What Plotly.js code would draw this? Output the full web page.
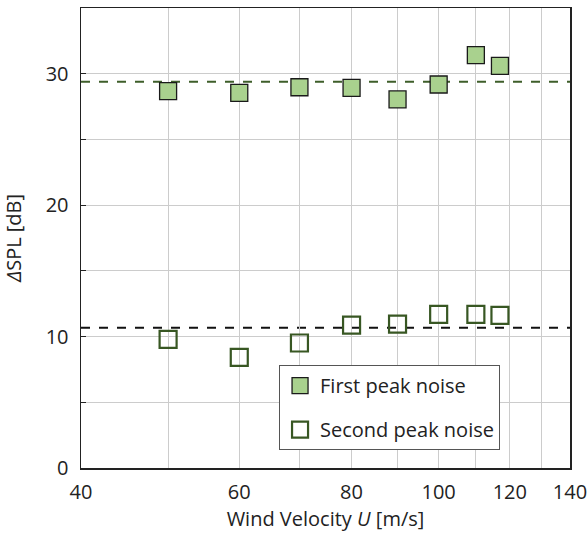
<!DOCTYPE html>
<html><head><meta charset="utf-8">
<script src="https://cdn.plot.ly/plotly-3.0.1.min.js"></script>
<style>html,body{margin:0;padding:0;background:#fff}#plot{width:588px;height:535px}</style>
</head><body><div id="plot"></div>
<script>
const velocity = [50, 60, 70, 80, 90, 100, 110, 117];
const firstPeak = [28.67, 28.54, 28.97, 28.92, 28.04, 29.18, 31.41, 30.59];
const secondPeak = [9.79, 8.42, 9.51, 10.87, 10.95, 11.69, 11.69, 11.61];
const firstMean = 29.38;
const secondMean = 10.67;
const xTicks = [40, 60, 80, 100, 120, 140];
const xMinor = [50, 70, 90, 110, 130];
const seriesNames = ['First peak noise', 'Second peak noise'];

const font = "'Open Sans', Lato, sans-serif";
const fs = 20;
const traces = [
  {x: velocity, y: firstPeak, type: 'scatter', mode: 'markers', name: seriesNames[0], legendgroup: 'a',
   marker: {symbol: 'square', size: 17, color: '#a9d18e', line: {color: '#1a1a1a', width: 1.3}}},
  {x: velocity, y: secondPeak, type: 'scatter', mode: 'markers', name: seriesNames[1], legendgroup: 'b',
   marker: {symbol: 'square-open', size: 17, color: '#385723', line: {color: '#385723', width: 2.2}}}
];
const layout = {
  width: 588, height: 535,
  margin: {l: 81, r: 18, t: 8, b: 67},
  paper_bgcolor: '#fff', plot_bgcolor: '#fff',
  font: {family: font, size: fs, color: '#222'},
  showlegend: true,
  legend: {x: 0.405, xanchor: 'left', y: 0.2236, yanchor: 'top', bgcolor: '#fff',
           bordercolor: '#555', borderwidth: 1, font: {family: font, size: fs, color: '#222'},
           traceorder: 'grouped', tracegroupgap: 15, itemwidth: 30},
  xaxis: {type: 'log', range: [Math.log10(40) - 1e-6, Math.log10(140) + 1e-6], tickvals: xTicks, ticktext: xTicks.map(String),
          showgrid: true, gridcolor: '#cccccc', gridwidth: 1, zeroline: false, ticklabeloverflow: 'allow',
          showline: true, linecolor: '#222', linewidth: 1.5, mirror: true, ticks: '', ticklabelstandoff: 5,
          minor: {tickvals: xMinor, showgrid: true, gridcolor: '#cccccc', gridwidth: 1, ticks: ''},
          tickfont: {size: fs}, title: {text: 'Wind Velocity <i>U</i> [m/s]', font: {size: fs}, standoff: 6}},
  yaxis: {range: [0, 35], dtick: 10, tick0: 0, showgrid: true, gridcolor: '#cccccc', gridwidth: 1, zeroline: false,
          showline: true, linecolor: '#222', linewidth: 1.5, mirror: true, ticks: 'inside', ticklen: 5, tickcolor: '#222',
          ticklabelstandoff: 7,
          minor: {dtick: 5, showgrid: true, gridcolor: '#cccccc', ticks: 'inside', ticklen: 5, tickcolor: '#222'},
          tickfont: {size: fs}, title: {text: '<i>Δ</i>SPL [dB]', font: {size: fs}, standoff: 18}},
  shapes: [
    {type: 'line', xref: 'paper', x0: 0, x1: 1, yref: 'y', y0: firstMean, y1: firstMean,
     line: {color: '#3e5e2a', width: 2, dash: 'dash'}, layer: 'below'},
    {type: 'line', xref: 'paper', x0: 0, x1: 1, yref: 'y', y0: secondMean, y1: secondMean,
     line: {color: '#111', width: 2, dash: 'dash'}, layer: 'below'}
  ]
};
Plotly.newPlot('plot', traces, layout, {displayModeBar: false, staticPlot: true});
</script></body></html>
